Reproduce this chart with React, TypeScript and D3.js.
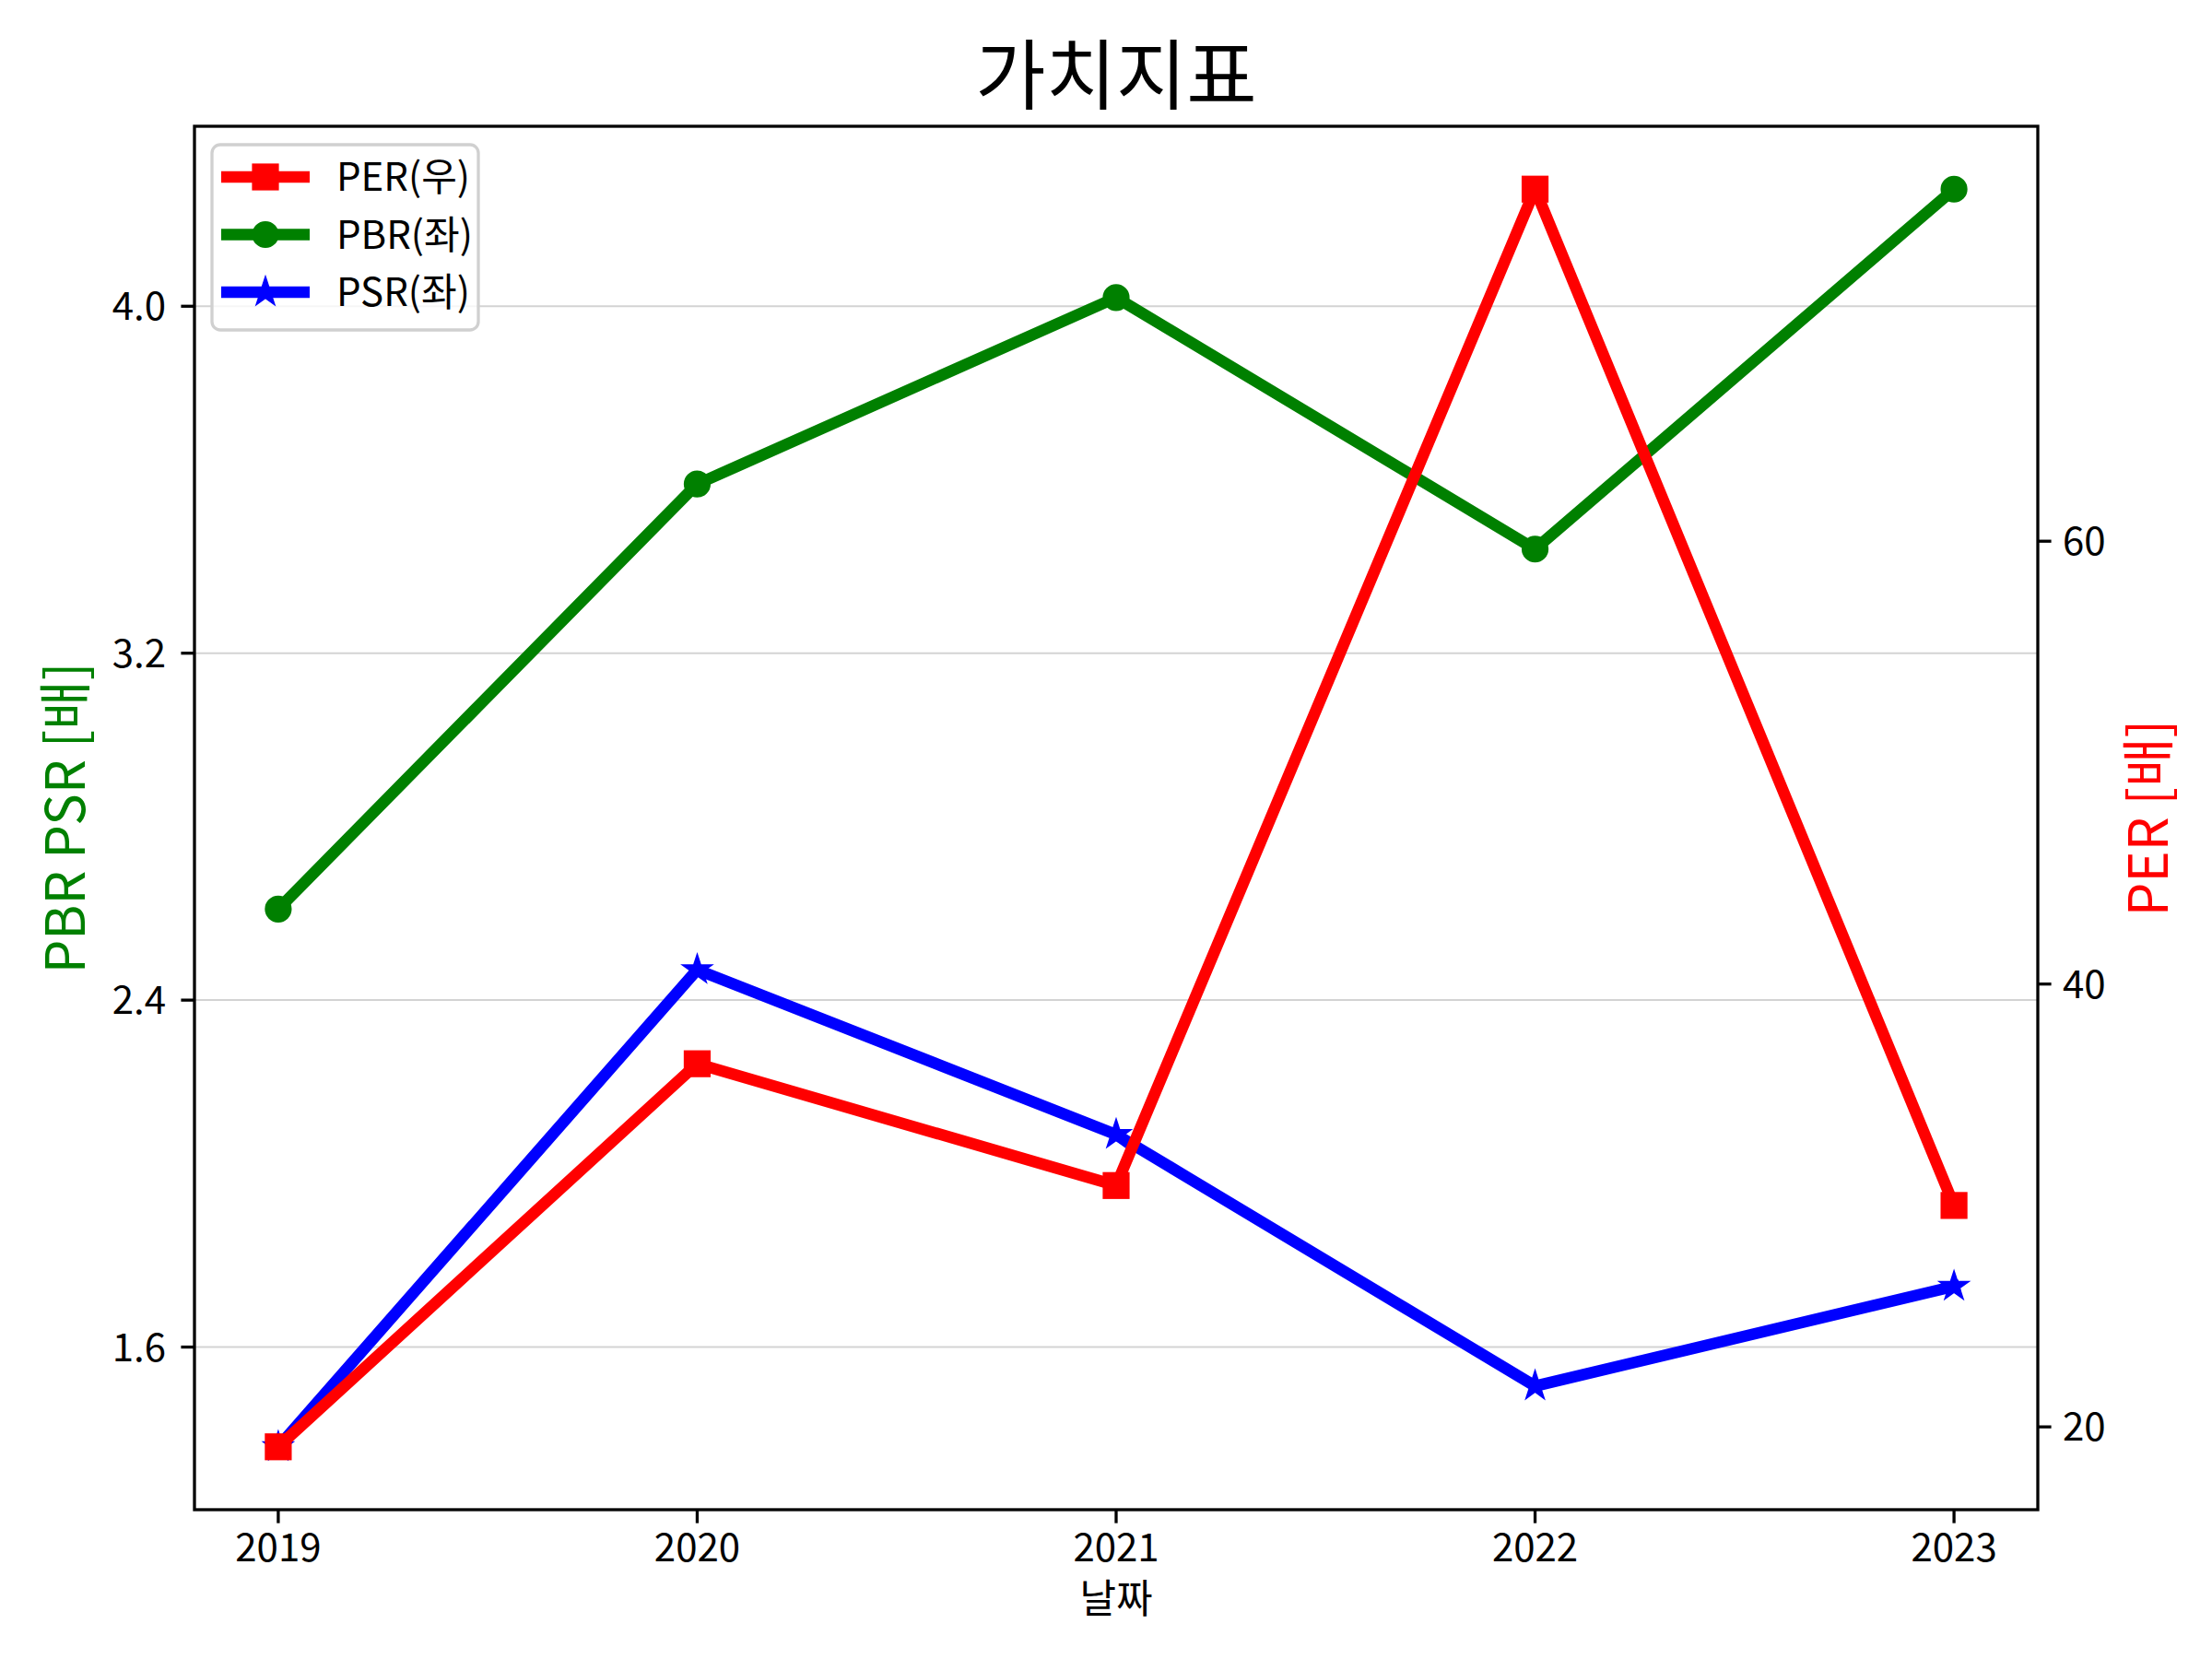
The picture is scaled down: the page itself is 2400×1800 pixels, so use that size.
import React from 'react';
import * as d3 from 'd3';

const years = [2019, 2020, 2021, 2022, 2023];
const perValues = [19.1, 36.4, 30.9, 75.9, 30.0];
const pbrValues = [2.61, 3.59, 4.02, 3.44, 4.27];
const psrValues = [1.37, 2.47, 2.09, 1.51, 1.74];
const leftTicks = [1.6, 2.4, 3.2, 4.0];
const rightTicks = [20, 40, 60];
const legendLabels = ['PER(우)', 'PBR(좌)', 'PSR(좌)'];

const W = 2400;
const H = 1800;
const left = 211;
const right = 2211;
const top = 137;
const bottom = 1638;
const FONT = "'Noto Sans CJK KR', 'Noto Sans', sans-serif";
const LW = 12.5;
const MEW = 4.2;

// matplotlib style 5% padding
const padded = (vals: number[]): [number, number] => {
  const [mn, mx] = d3.extent(vals) as [number, number];
  const p = (mx - mn) * 0.05;
  return [mn - p, mx + p];
};

const x = d3.scaleLinear().domain(padded(years)).range([left, right]);
const yL = d3.scaleLinear().domain(padded([...pbrValues, ...psrValues])).range([bottom, top]);
const yR = d3.scaleLinear().domain(padded(perValues)).range([bottom, top]);

const lineL = d3.line<number>().x((_, i) => x(years[i])).y(d => yL(d));
const lineR = d3.line<number>().x((_, i) => x(years[i])).y(d => yR(d));

const starPath = d3.symbol().type(d3.symbolStar).size(175)() as string;

const Marker = ({ kind, cx, cy, color }: { kind: string; cx: number; cy: number; color: string }) => {
  if (kind === 'square')
    return <rect x={cx - 12.5} y={cy - 12.5} width={25} height={25} fill={color} stroke={color} strokeWidth={MEW} />;
  if (kind === 'circle') return <circle cx={cx} cy={cy} r={12.5} fill={color} stroke={color} strokeWidth={MEW} />;
  return <path d={starPath} transform={`translate(${cx},${cy})`} fill={color} stroke={color} strokeWidth={MEW} strokeLinejoin="miter" />;
};

const series = [
  { label: legendLabels[0], values: perValues, color: 'red', kind: 'square', axis: 'right' },
  { label: legendLabels[1], values: pbrValues, color: 'green', kind: 'circle', axis: 'left' },
  { label: legendLabels[2], values: psrValues, color: 'blue', kind: 'star', axis: 'left' },
];

export default function App() {
  const drawOrder = [series[1], series[2], series[0]];
  return (
    <div>
      <style>{`body{margin:0}`}</style>
      <svg width={W} height={H} viewBox={`0 0 ${W} ${H}`} style={{ display: 'block', background: '#fff' }} fontFamily={FONT}>
        <rect x={0} y={0} width={W} height={H} fill="#fff" />
        {/* grid (left axis only) */}
        {leftTicks.map(t => (
          <line key={`g${t}`} x1={left} x2={right} y1={yL(t)} y2={yL(t)} stroke="#d3d3d3" strokeWidth={2} />
        ))}

        {/* lines and markers */}
        {drawOrder.map(s => {
          const y = s.axis === 'left' ? yL : yR;
          const gen = s.axis === 'left' ? lineL : lineR;
          return (
            <g key={s.label}>
              <path d={gen(s.values) as string} fill="none" stroke={s.color} strokeWidth={LW} strokeLinejoin="round" strokeLinecap="square" />
              {s.values.map((v, i) => (
                <Marker key={i} kind={s.kind} cx={x(years[i])} cy={y(v)} color={s.color} />
              ))}
            </g>
          );
        })}

        {/* frame */}
        <rect x={left} y={top} width={right - left} height={bottom - top} fill="none" stroke="#000" strokeWidth={3.3} />

        {/* x ticks */}
        {years.map(yr => (
          <g key={`x${yr}`}>
            <line x1={x(yr)} x2={x(yr)} y1={bottom} y2={bottom + 14.6} stroke="#000" strokeWidth={3.3} />
            <text x={x(yr)} y={1694} textAnchor="middle" fontSize={42}>{yr}</text>
          </g>
        ))}

        {/* left ticks */}
        {leftTicks.map(t => (
          <g key={`l${t}`}>
            <line x1={left - 14.6} x2={left} y1={yL(t)} y2={yL(t)} stroke="#000" strokeWidth={3.3} />
            <text x={180} y={yL(t) + 15} textAnchor="end" fontSize={42}>{t.toFixed(1)}</text>
          </g>
        ))}

        {/* right ticks */}
        {rightTicks.map(t => (
          <g key={`r${t}`}>
            <line x1={right} x2={right + 14.6} y1={yR(t)} y2={yR(t)} stroke="#000" strokeWidth={3.3} />
            <text x={2238} y={yR(t) + 15} textAnchor="start" fontSize={42}>{t}</text>
          </g>
        ))}

        {/* labels */}
        <text x={(left + right) / 2} y={112} textAnchor="middle" fontSize={83}>가치지표</text>
        <text x={(left + right) / 2} y={1750} textAnchor="middle" fontSize={43}>날짜</text>
        <text transform={`translate(92,${(top + bottom) / 2}) rotate(-90)`} textAnchor="middle" fontSize={58} fill="green">PBR PSR [배]</text>
        <text transform={`translate(2352,${(top + bottom) / 2}) rotate(-90)`} textAnchor="middle" fontSize={58} fill="red">PER [배]</text>

        {/* legend */}
        <rect x={230} y={157} width={289} height={201} rx={9} fill="#fff" fillOpacity={0.8} stroke="#d0d0d0" strokeWidth={3.3} />
        {series.map((s, i) => {
          const cy = 192 + i * 62.5;
          return (
            <g key={`lg${i}`}>
              <line x1={240} x2={336} y1={cy} y2={cy} stroke={s.color} strokeWidth={LW} />
              <Marker kind={s.kind} cx={288} cy={cy} color={s.color} />
              <text x={365} y={cy + 15} fontSize={42}>{s.label}</text>
            </g>
          );
        })}
      </svg>
    </div>
  );
}
